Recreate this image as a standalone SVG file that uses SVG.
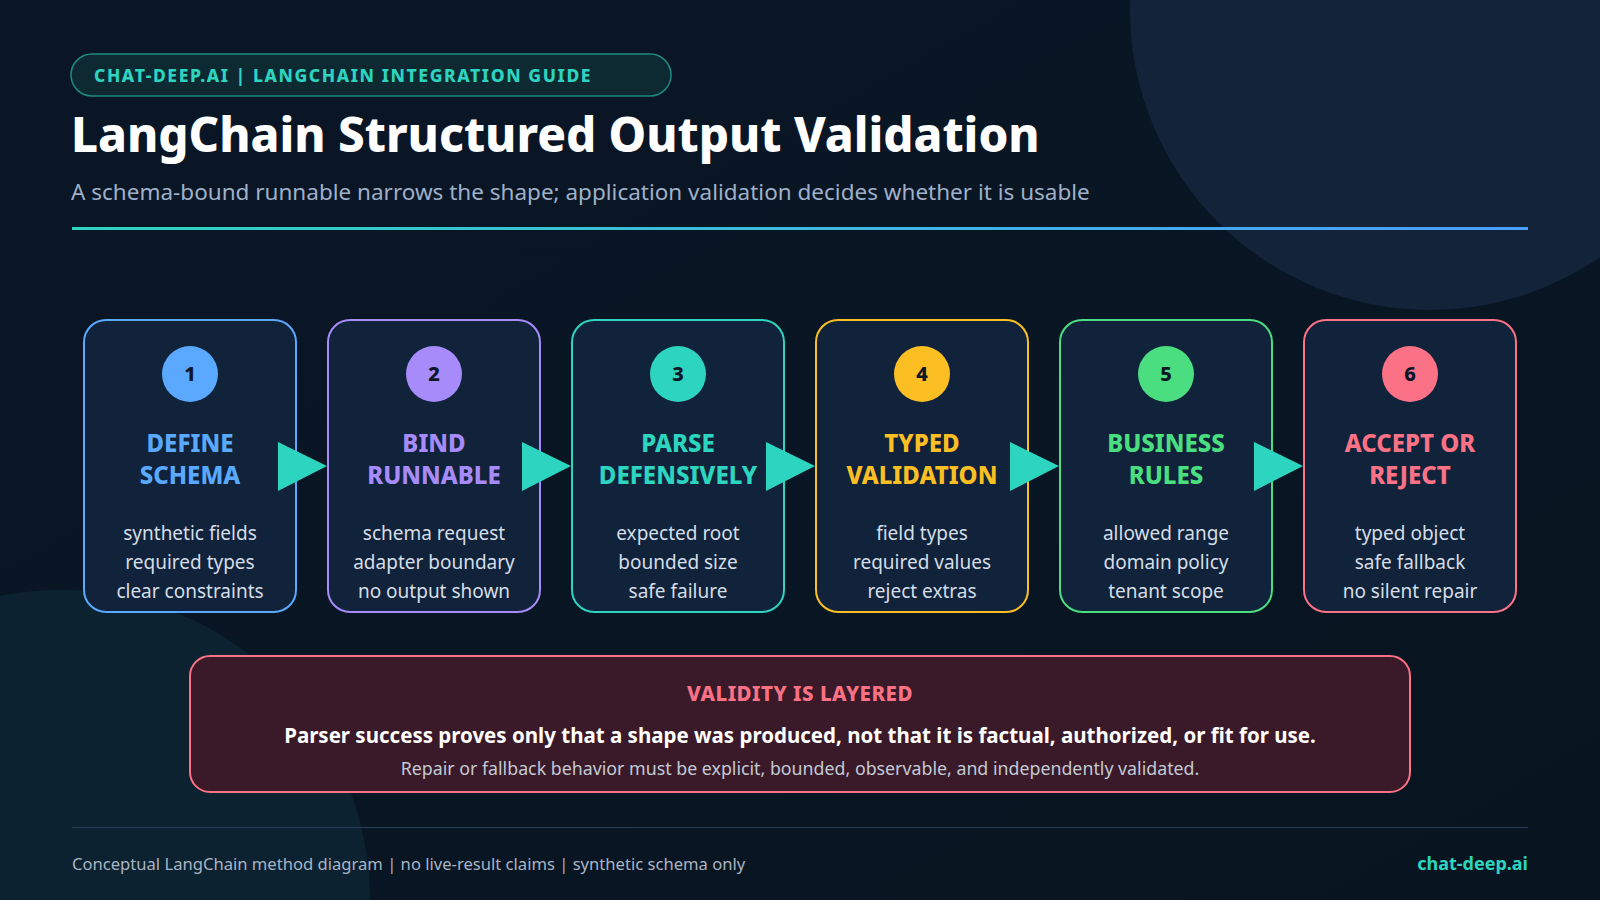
<svg xmlns="http://www.w3.org/2000/svg" width="1600" height="900" viewBox="0 0 1600 900">
<defs>
<linearGradient id="bg" x1="0" y1="0" x2="1" y2="1"><stop offset="0" stop-color="#0a1626"/><stop offset="1" stop-color="#081520"/></linearGradient>
<linearGradient id="rule" x1="0" x2="1"><stop offset="0" stop-color="#2dd4bf"/><stop offset="1" stop-color="#4a9eff"/></linearGradient>
<style>
text{font-family:"Noto Sans","Open Sans","DejaVu Sans",sans-serif}
.card{fill:#10233a;stroke-width:2}
.num{font-size:20px;font-weight:800;fill:#0b1626;text-anchor:middle}
.ttl{font-size:24px;font-weight:800;text-anchor:middle}
.desc{font-size:19px;fill:#d5dde8;text-anchor:middle}
.arr{fill:#2dd4bf}
</style>
</defs>
<rect width="1600" height="900" fill="url(#bg)"/>
<circle cx="1430" cy="10" r="300" fill="#12233a"/>
<circle cx="60" cy="900" r="310" fill="#0c2230"/>
<g id="header">
<rect x="71" y="54" width="600" height="42" rx="21" fill="#0d2a33" stroke="#1f8a80" stroke-width="1.5"/>
<text x="94" y="82" font-size="17.5" font-weight="800" fill="#2dd4bf" letter-spacing="1.6">CHAT-DEEP.AI | LANGCHAIN INTEGRATION GUIDE</text>
<text x="71" y="152" font-size="47.5" font-weight="800" fill="#ffffff">LangChain Structured Output Validation</text>
<text x="71" y="200" font-size="22.5" fill="#9fb0c8">A schema-bound runnable narrows the shape; application validation decides whether it is usable</text>
<rect x="72" y="227" width="1456" height="3" fill="url(#rule)"/>
</g>
<g id="n1"><rect class="card" x="84" y="320" width="212" height="292" rx="22" stroke="#5aa9ff"/><circle cx="190" cy="374" r="28" fill="#5aa9ff"/><text class="num" x="190" y="381">1</text><text class="ttl" x="190" y="452" fill="#5aa9ff">DEFINE</text><text class="ttl" x="190" y="484" fill="#5aa9ff">SCHEMA</text><text class="desc" x="190" y="540">synthetic fields</text><text class="desc" x="190" y="569">required types</text><text class="desc" x="190" y="598">clear constraints</text></g>
<g id="n2"><rect class="card" x="328" y="320" width="212" height="292" rx="22" stroke="#a78bfa"/><circle cx="434" cy="374" r="28" fill="#a78bfa"/><text class="num" x="434" y="381">2</text><text class="ttl" x="434" y="452" fill="#a78bfa">BIND</text><text class="ttl" x="434" y="484" fill="#a78bfa">RUNNABLE</text><text class="desc" x="434" y="540">schema request</text><text class="desc" x="434" y="569">adapter boundary</text><text class="desc" x="434" y="598">no output shown</text></g>
<g id="n3"><rect class="card" x="572" y="320" width="212" height="292" rx="22" stroke="#2dd4bf"/><circle cx="678" cy="374" r="28" fill="#2dd4bf"/><text class="num" x="678" y="381">3</text><text class="ttl" x="678" y="452" fill="#2dd4bf">PARSE</text><text class="ttl" x="678" y="484" fill="#2dd4bf">DEFENSIVELY</text><text class="desc" x="678" y="540">expected root</text><text class="desc" x="678" y="569">bounded size</text><text class="desc" x="678" y="598">safe failure</text></g>
<g id="n4"><rect class="card" x="816" y="320" width="212" height="292" rx="22" stroke="#fbbf24"/><circle cx="922" cy="374" r="28" fill="#fbbf24"/><text class="num" x="922" y="381">4</text><text class="ttl" x="922" y="452" fill="#fbbf24">TYPED</text><text class="ttl" x="922" y="484" fill="#fbbf24">VALIDATION</text><text class="desc" x="922" y="540">field types</text><text class="desc" x="922" y="569">required values</text><text class="desc" x="922" y="598">reject extras</text></g>
<g id="n5"><rect class="card" x="1060" y="320" width="212" height="292" rx="22" stroke="#4ade80"/><circle cx="1166" cy="374" r="28" fill="#4ade80"/><text class="num" x="1166" y="381">5</text><text class="ttl" x="1166" y="452" fill="#4ade80">BUSINESS</text><text class="ttl" x="1166" y="484" fill="#4ade80">RULES</text><text class="desc" x="1166" y="540">allowed range</text><text class="desc" x="1166" y="569">domain policy</text><text class="desc" x="1166" y="598">tenant scope</text></g>
<g id="n6"><rect class="card" x="1304" y="320" width="212" height="292" rx="22" stroke="#fb7185"/><circle cx="1410" cy="374" r="28" fill="#fb7185"/><text class="num" x="1410" y="381">6</text><text class="ttl" x="1410" y="452" fill="#fb7185">ACCEPT OR</text><text class="ttl" x="1410" y="484" fill="#fb7185">REJECT</text><text class="desc" x="1410" y="540">typed object</text><text class="desc" x="1410" y="569">safe fallback</text><text class="desc" x="1410" y="598">no silent repair</text></g>
<g id="connectors">
<polygon class="arr" points="278,442 327,466 278,491"/>
<polygon class="arr" points="522,442 571,466 522,491"/>
<polygon class="arr" points="766,442 815,466 766,491"/>
<polygon class="arr" points="1010,442 1059,466 1010,491"/>
<polygon class="arr" points="1254,442 1303,466 1254,491"/>
</g>
<g id="note">
<rect x="190" y="656" width="1220" height="136" rx="20" fill="#3a1a28" stroke="#fb7185" stroke-width="2"/>
<text x="800" y="701" font-size="20.5" font-weight="800" fill="#fb7185" text-anchor="middle" letter-spacing="0.5">VALIDITY IS LAYERED</text>
<text x="800" y="743" font-size="20.5" font-weight="700" fill="#ffffff" text-anchor="middle">Parser success proves only that a shape was produced, not that it is factual, authorized, or fit for use.</text>
<text x="800" y="775" font-size="17.8" fill="#c3cad6" text-anchor="middle">Repair or fallback behavior must be explicit, bounded, observable, and independently validated.</text>
</g>
<g id="footer">
<rect x="72" y="827" width="1456" height="1" fill="#2a4058"/>
<text x="72" y="870" font-size="16.6" fill="#a8b4c4">Conceptual LangChain method diagram | no live-result claims | synthetic schema only</text>
<text x="1528" y="870" font-size="18" font-weight="700" fill="#2dd4bf" text-anchor="end">chat-deep.ai</text>
</g>
</svg>
